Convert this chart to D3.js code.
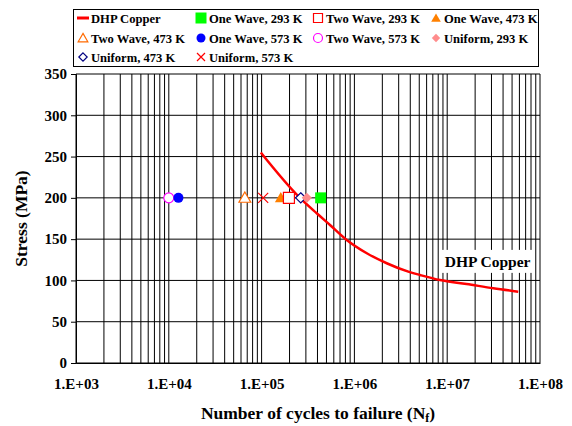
<!DOCTYPE html>
<html>
<head>
<meta charset="utf-8">
<script src="https://cdn.jsdelivr.net/npm/d3@7"></script>
<style>
  body { margin: 0; background: #fff; }
</style>
</head>
<body>
<div id="chart"></div>
<script>
// DHP copper fatigue curve
var curveCycles = [9.8e4, 2.59e5, 3.93e5, 5.46e5, 8.26e5, 1.36e6, 2.23e6, 3.81e6, 5.09e6, 8.36e6, 1.62e7, 3.14e7, 5.83e7];
var curveStress = [255, 200, 181.3, 167.1, 149, 132.9, 120.8, 110.6, 106.6, 100.5, 95.7, 90.5, 86.4];

// test points, all at 200 MPa
var pointNames = ['One Wave, 293 K', 'Two Wave, 293 K', 'One Wave, 473 K', 'Two Wave, 473 K',
    'One Wave, 573 K', 'Two Wave, 573 K', 'Uniform, 293 K', 'Uniform, 473 K', 'Uniform, 573 K'];
var pointCycles = [4.33e5, 1.97e5, 1.61e5, 6.6e4, 1.27e4, 1.0e4, 3.07e5, 2.64e5, 1.04e5];
var pointStress = [200, 200, 200, 200, 200, 200, 200, 200, 200];

var yTicks = [0, 50, 100, 150, 200, 250, 300, 350];
var xTicks = [1e3, 1e4, 1e5, 1e6, 1e7, 1e8];

var width = 572,
    height = 426,
    margin = { top: 74, right: 32, bottom: 63, left: 76 },
    font = 'Liberation Serif';

var chartWidth = width - margin.left - margin.right,
    chartHeight = height - margin.top - margin.bottom;

var style = {
    'One Wave, 293 K': { shape: 'square', color: '#00ff00', fill: true },
    'Two Wave, 293 K': { shape: 'square', color: '#ff0000', fill: false },
    'One Wave, 473 K': { shape: 'triangle', color: '#ff8000', fill: true },
    'Two Wave, 473 K': { shape: 'triangle', color: '#ff6a00', fill: false },
    'One Wave, 573 K': { shape: 'circle', color: '#0000ff', fill: true },
    'Two Wave, 573 K': { shape: 'circle', color: '#ff00ff', fill: false },
    'Uniform, 293 K': { shape: 'diamond', color: '#ff8c8c', fill: true },
    'Uniform, 473 K': { shape: 'diamond', color: '#000080', fill: false },
    'Uniform, 573 K': { shape: 'cross', color: '#ff0000', fill: false }
};

var svg = d3.select('#chart').append('svg')
    .attr('width', width)
    .attr('height', height);

var xScale = d3.scaleLog().domain([1e3, 1e8]).range([0, chartWidth]);
var yScale = d3.scaleLinear().domain([0, 350]).range([chartHeight, 0]);

var chartG = svg.append('g')
    .attr('transform', 'translate(' + margin.left + ',' + margin.top + ')');

// vertical grid on every minor log value
var minor = [];
for (var d = 1e3; d < 1e8; d *= 10) {
    for (var k = 1; k < 10; k++) minor.push(d * k);
}
minor.push(1e8);

chartG.selectAll('.vgrid').data(minor).enter()
    .append('line')
    .attr('class', 'vgrid')
    .attr('x1', function (d) { return xScale(d); })
    .attr('x2', function (d) { return xScale(d); })
    .attr('y1', 0)
    .attr('y2', chartHeight)
    .attr('stroke', '#000')
    .attr('stroke-width', 1);

chartG.selectAll('.hgrid').data(yTicks).enter()
    .append('line')
    .attr('class', 'hgrid')
    .attr('x1', 0)
    .attr('x2', chartWidth)
    .attr('y1', function (d) { return yScale(d); })
    .attr('y2', function (d) { return yScale(d); })
    .attr('stroke', '#000')
    .attr('stroke-width', 1);

// axes
var yAxis = d3.axisLeft(yScale).tickValues(yTicks).tickSize(5).tickPadding(4).tickFormat(d3.format('d'));
var yAxisG = chartG.append('g').call(yAxis);
yAxisG.select('.domain').attr('stroke', '#000');
yAxisG.selectAll('text')
    .attr('font-size', 15).attr('font-weight', 'bold')
    .attr('font-family', font).attr('fill', '#000');

var xAxis = d3.axisBottom(xScale).tickValues(xTicks).tickSize(0).tickPadding(15)
    .tickFormat(function (d) { return '1.E+' + d3.format('02d')(Math.round(Math.log10(d))); });
var xAxisG = chartG.append('g')
    .attr('transform', 'translate(0,' + chartHeight + ')')
    .call(xAxis);
xAxisG.select('.domain').attr('stroke', '#000');
xAxisG.selectAll('text')
    .attr('font-size', 15).attr('font-weight', 'bold')
    .attr('font-family', font).attr('fill', '#000');

// fatigue curve
var curveData = curveCycles.map(function (c, i) { return { x: c, y: curveStress[i] }; });
var line = d3.line()
    .x(function (d) { return xScale(d.x); })
    .y(function (d) { return yScale(d.y); })
    .curve(d3.curveMonotoneX);

chartG.append('path')
    .attr('d', line(curveData))
    .attr('fill', 'none')
    .attr('stroke', '#ff0000')
    .attr('stroke-width', 2.5);

// markers
function drawMarker(g, name, size) {
    var s = style[name];
    if (s.shape === 'cross') {
        var h = size / 2 - 0.5;
        g.append('path')
            .attr('d', 'M' + -h + ',' + -h + 'L' + h + ',' + h + 'M' + -h + ',' + h + 'L' + h + ',' + -h)
            .attr('fill', 'none')
            .attr('stroke', s.color)
            .attr('stroke-width', 1.2);
        return;
    }
    var sym;
    if (s.shape === 'square') sym = d3.symbolSquare;
    else if (s.shape === 'triangle') sym = d3.symbolTriangle;
    else if (s.shape === 'circle') sym = d3.symbolCircle;
    else sym = d3.symbolDiamond2;
    var area = size * size;
    if (s.shape === 'circle') area = Math.PI * size * size / 4;
    if (s.shape === 'triangle') area = size * size * 0.5;
    if (s.shape === 'diamond') area = size * size * 0.55;
    g.append('path')
        .attr('d', d3.symbol().type(sym).size(area)())
        .attr('transform', s.shape === 'triangle' ? 'translate(0,1)' : null)
        .attr('fill', s.fill ? s.color : '#fff')
        .attr('stroke', s.color)
        .attr('stroke-width', s.fill ? 0 : 1.2);
}

// order chosen so overlapping markers stack as in the original
var drawOrder = [5, 4, 3, 8, 2, 1, 7, 6, 0];
drawOrder.forEach(function (i) {
    var g = chartG.append('g')
        .attr('transform', 'translate(' + xScale(pointCycles[i]) + ',' + yScale(pointStress[i]) + ')');
    var s = style[pointNames[i]];
    drawMarker(g, pointNames[i], s.shape === 'circle' ? 10 : 11);
});

// in-plot label
var label = chartG.append('g')
    .attr('transform', 'translate(' + xScale(8.5e6) + ',' + yScale(137) + ')');
label.append('rect')
    .attr('x', 0).attr('y', 0).attr('width', 94).attr('height', 23)
    .attr('fill', '#fff');
label.append('text')
    .attr('x', 47).attr('y', 17)
    .attr('text-anchor', 'middle')
    .attr('font-family', font).attr('font-weight', 'bold')
    .attr('font-size', 15.5)
    .text('DHP Copper');

// axis titles
svg.append('text')
    .attr('x', margin.left + chartWidth / 2 + 10)
    .attr('y', 419)
    .attr('text-anchor', 'middle')
    .attr('font-family', font).attr('font-weight', 'bold')
    .attr('font-size', 17.5)
    .html('Number of cycles to failure (N<tspan font-size="12" dy="3">f</tspan><tspan dy="-3">)</tspan>');

svg.append('text')
    .attr('transform', 'translate(27,' + (margin.top + chartHeight / 2) + ') rotate(-90)')
    .attr('text-anchor', 'middle')
    .attr('font-family', font).attr('font-weight', 'bold')
    .attr('font-size', 17.5)
    .text('Stress (MPa)');

// legend
var legend = svg.append('g');
legend.append('rect')
    .attr('x', 73.5).attr('y', 9.5).attr('width', 465).attr('height', 57)
    .attr('fill', '#fff')
    .attr('stroke', '#000');

var legendNames = ['DHP Copper'].concat(pointNames.slice(0, 3), pointNames.slice(3, 6), ['Uniform, 293 K', 'Uniform, 473 K', 'Uniform, 573 K']);
var colX = [83, 201, 318, 436];
var rowY = [18, 38, 57];
legendNames.forEach(function (name, i) {
    var cx = colX[i % 4], cy = rowY[Math.floor(i / 4)];
    var g = legend.append('g').attr('transform', 'translate(' + cx + ',' + cy + ')');
    if (name === 'DHP Copper') {
        g.append('line').attr('x1', -6).attr('x2', 6).attr('stroke', '#ff0000').attr('stroke-width', 3);
    } else {
        drawMarker(g, name, name.indexOf('One Wave, 293') === 0 ? 11 : 9);
    }
    legend.append('text')
        .attr('x', cx + 8)
        .attr('y', cy + 4.5)
        .attr('font-family', font).attr('font-weight', 'bold')
        .attr('font-size', 12.6)
        .text(name);
});
</script>
</body>
</html>
